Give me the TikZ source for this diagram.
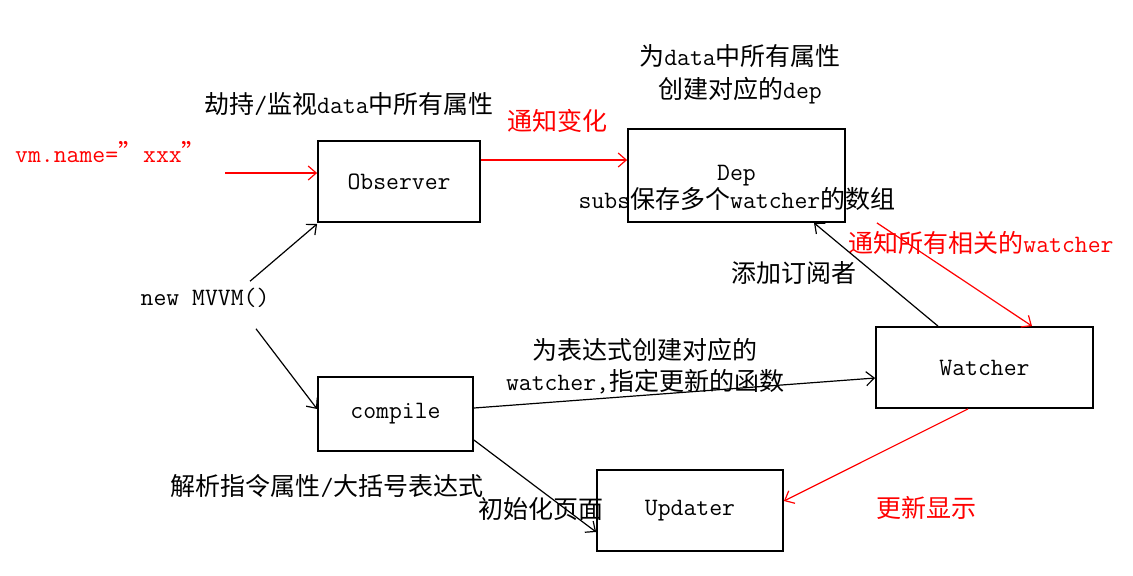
\documentclass[tikz,border=0pt]{standalone}
\usepackage{fontspec}
\usepackage{tikz}
\usetikzlibrary{arrows.meta,calc}
\newfontfamily\cjkfont{Noto Sans CJK SC}

\begin{document}
\begin{tikzpicture}[x=0.5pt,y=-0.5pt,
	every node/.style={font=\ttfamily\fontsize{12.5}{16}\selectfont},
	box/.style={draw, line width=0.9pt, inner sep=0pt},
	redtext/.style={text=red},
	>={Straight Barb[length=4pt,width=7pt]}]
	
	\useasboundingbox (0,0) rectangle (1133,575);
	
	% Draw nodes
	\node[box, minimum width=81pt, minimum height=40.5pt] (Obs) at (399,181.5) {Observer};
	\node[box, minimum width=108.5pt, minimum height=46.5pt] (Dep) at (736.5,175.5) {Dep};
	\node (subs) at (737,199) {subs{\cjkfont 保存多个}watcher{\cjkfont 的数组}};
	\node[box, minimum width=108.5pt, minimum height=40.5pt] (Watcher) at (984.5,367.5) {Watcher};
	\node[box, minimum width=77.5pt, minimum height=37pt] (compile) at (395.5,414) {compile};
	\node[box, minimum width=93pt, minimum height=40.5pt] (Updater) at (690,510.5) {Updater};
	\node (mvvm) at (205,298) {new MVVM()};
	\node[redtext] (vm) at (111,152) {vm.name={\cjkfont ”}xxx{\cjkfont ”}};
	\coordinate (vmin) at (225,173);
	
	% Draw labels
	\node (hijack) at (349,104) {{\cjkfont 劫持}/{\cjkfont 监视}data{\cjkfont 中所有属性}};
	\node[redtext] (notify) at (557,121) {\cjkfont 通知变化};
	\node[align=center, font=\ttfamily\fontsize{12.5}{16.5}\selectfont] (depnote) at (740,74)
		{{\cjkfont 为}data{\cjkfont 中所有属性}\\{\cjkfont 创建对应的}dep};
	\node (addsub) at (794,273) {\cjkfont 添加订阅者};
	\node[redtext] (notifyall) at (981,243) {{\cjkfont 通知所有相关的}watcher};
	\node[align=center, font=\ttfamily\fontsize{12.5}{15.5}\selectfont] (exprnote) at (645,366)
		{{\cjkfont 为表达式创建对应的}\\watcher,{\cjkfont 指定更新的函数}};
	\node (parse) at (327,486) {{\cjkfont 解析指令属性}/{\cjkfont 大括号表达式}};
	\node (init) at (541,509) {\cjkfont 初始化页面};
	\node[redtext] (update) at (926,508) {\cjkfont 更新显示};
	
	% Draw arcs, black ones
	\draw[->, line width=0.6pt] ($(mvvm.north)+(45,0)$) to ($(Obs.south west)+(0,1)$);
	\draw[->, line width=0.6pt] ($(mvvm.south)+(51,14)$) to ($(compile.west)+(0,-5)$);
	\draw[->, line width=0.6pt] ($(compile.east)+(0,-6)$) to ($(Watcher.west)+(0,10.5)$);
	\draw[->, line width=0.6pt] ($(compile.east)+(0,26)$) to ($(Updater.west)+(0,21.5)$);
	\draw[->, line width=0.6pt] ($(Watcher.north)+(-46.5,0)$) to ($(Dep.south)+(77.5,0)$);
	
	% Draw arcs, red ones
	\draw[->, red, line width=0.6pt] (vmin) to (vmin -| Obs.west);
	\draw[->, red, line width=0.6pt] ($(Obs.east)+(0,-21.5)$) to ($(Dep.west)+(0,-15.5)$);
	\draw[->, red, line width=0.6pt] ($(Dep.south east)+(31,0)$) to ($(Watcher.north)+(47.5,0)$);
	\draw[->, red, line width=0.6pt] ($(Watcher.south)+(-16.5,0)$) to ($(Updater.east)+(0,-9.5)$);
	
\end{tikzpicture}
\end{document}
